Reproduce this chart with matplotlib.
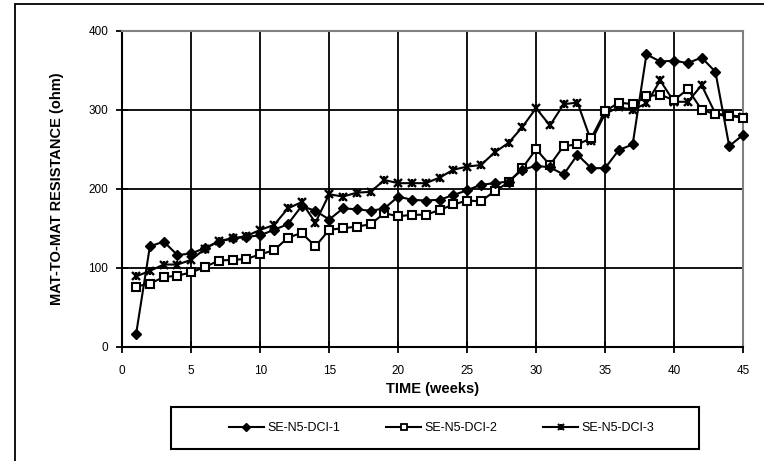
import matplotlib
matplotlib.use("Agg")
import matplotlib.pyplot as plt
from matplotlib.patches import Rectangle
from matplotlib.lines import Line2D

weeks = list(range(1, 46))
s1 = [16, 127, 133, 116, 118, 125, 133, 137, 139, 141, 148, 155, 178, 172, 161,
      175, 174, 172, 175, 190, 186, 185, 186, 192, 198, 205, 207, 209, 224, 229,
      227, 218, 243, 226, 226, 249, 256, 370, 361, 362, 359, 366, 348, 254, 268]
s2 = [76, 80, 88, 90, 94, 101, 109, 110, 111, 117, 122, 138, 144, 127, 148,
      150, 152, 155, 169, 165, 167, 167, 173, 180, 185, 184, 197, 208, 226, 250,
      230, 254, 256, 264, 298, 309, 307, 317, 319, 312, 326, 300, 294, 292, 290]
s3 = [89, 96, 104, 104, 110, 124, 134, 137, 140, 148, 154, 175, 183, 157, 193,
      190, 195, 196, 211, 207, 207, 207, 214, 224, 228, 230, 246, 258, 278, 302,
      280, 307, 309, 260, 295, 303, 300, 308, 337, 310, 310, 331, 295, 293, 291]
labels = ["SE-N5-DCI-1", "SE-N5-DCI-2", "SE-N5-DCI-3"]
xticks = [0, 5, 10, 15, 20, 25, 30, 35, 40, 45]
yticks = [0, 100, 200, 300, 400]

plt.rcParams['font.family'] = ['Liberation Sans', 'DejaVu Sans']

W, H = 764, 461
fig = plt.figure(figsize=(W / 100, H / 100), dpi=100)
ax = fig.add_axes([122.3 / W, 1 - 346.7 / H, (743 - 122.3) / W, (346.7 - 30.7) / H])

lw = 1.5
ax.plot(weeks, s1, color='black', lw=lw, marker='D', ms=5.5,
        mfc='black', mec='black', zorder=5, clip_on=False)
ax.plot(weeks, s2, color='black', lw=lw, marker='s', ms=5.2,
        mfc='white', mec='black', mew=1.5, zorder=4, clip_on=False)
ax.plot(weeks, s3, color='black', lw=lw, marker='x', ms=5.5,
        mec='black', mew=1.7, zorder=3, clip_on=False)
ax.plot(weeks, s3, color='none', lw=0, marker='|', ms=5.5,
        mec='black', mew=1.7, zorder=3, clip_on=False)

ax.set_xlim(0, 45)
ax.set_ylim(0, 400)
ax.set_xticks(xticks)
ax.set_yticks(yticks)
ax.grid(True, color='black', lw=1.3)
ax.set_axisbelow(True)
ax.tick_params(direction='inout', length=8, width=1.3, labelsize=8.5,
               colors='black')
ax.tick_params(axis='x', pad=9)
ax.tick_params(axis='y', pad=6)
for side in ['left', 'bottom']:
    ax.spines[side].set_color('black')
    ax.spines[side].set_linewidth(1.5)
for side in ['top', 'right']:
    ax.spines[side].set_color('#808080')
    ax.spines[side].set_linewidth(1.5)

ax.set_xlabel('TIME (weeks)', fontsize=10.5, fontweight='bold', labelpad=4)
ax.set_ylabel('MAT-TO-MAT RESISTANCE (ohm)', fontsize=10.5, fontweight='bold',
              labelpad=18)

# legend proxies (small markers like the original)
h1 = Line2D([], [], color='black', lw=lw, marker='D', ms=4, mfc='black', mec='black')
h2 = Line2D([], [], color='black', lw=lw, marker='s', ms=4, mfc='white', mec='black', mew=1.3)
h3a = Line2D([], [], color='black', lw=lw, marker='x', ms=4, mec='black', mew=1.5)
h3b = Line2D([], [], color='none', lw=0, marker='|', ms=4, mec='black', mew=1.5)

leg = fig.legend([h1, h2, (h3a, h3b)], labels, ncol=3,
                 loc='center', bbox_to_anchor=(441.5 / W, 1 - 428 / H),
                 frameon=False, fontsize=9,
                 handlelength=2.8, columnspacing=3.7, handletextpad=0.25,
                 borderpad=0.0)

fig.patches.append(Rectangle((171 / W, 1 - 449 / H), (699 - 171) / W, 42 / H,
                             transform=fig.transFigure, fill=False,
                             edgecolor='black', lw=1.5, clip_on=False))

# outer chart frame
fig.patches.append(Rectangle((15 / W, -0.05), 1.2, 1 - 4.5 / H + 0.05,
                             transform=fig.transFigure, fill=False,
                             edgecolor='black', lw=1.3, clip_on=False))

fig.savefig('out.png', dpi=100)
